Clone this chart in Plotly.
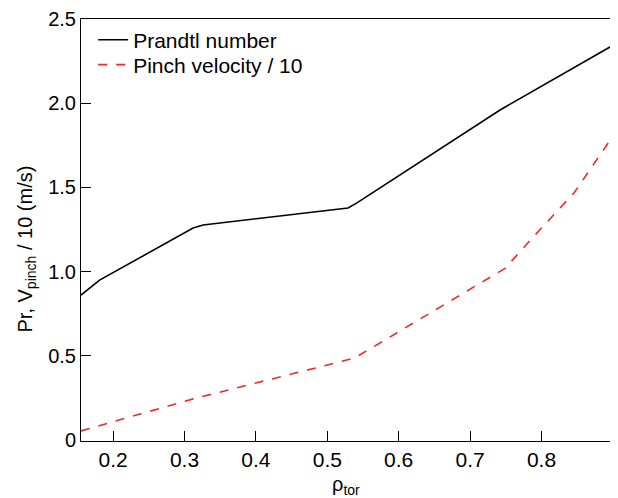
import plotly.graph_objects as go

# Prandtl number
rho_pr = [0.155, 0.181, 0.312, 0.326, 0.529, 0.541, 0.742, 0.896]
pr = [0.861, 0.950, 1.259, 1.277, 1.378, 1.407, 1.960, 2.334]

# Pinch velocity / 10
rho_v = [0.155, 0.312, 0.538, 0.749, 0.785, 0.846, 0.896]
vpinch = [0.055, 0.245, 0.487, 1.020, 1.190, 1.470, 1.780]

x_ticks = [0.2, 0.3, 0.4, 0.5, 0.6, 0.7, 0.8]
x_ticktext = ["0.2", "0.3", "0.4", "0.5", "0.6", "0.7", "0.8"]
y_ticks = [0, 0.5, 1.0, 1.5, 2.0, 2.5]
y_ticktext = ["0", "0.5", "1.0", "1.5", "2.0", "2.5"]

font = "Liberation Sans, Arial, Helvetica, sans-serif"

fig = go.Figure()
fig.add_trace(go.Scatter(x=rho_pr, y=pr, mode="lines", name="Prandtl number",
                         line=dict(color="black", width=1.6), legend="legend"))
fig.add_trace(go.Scatter(x=rho_v, y=vpinch, mode="lines", name="Pinch velocity / 10",
                         line=dict(color="#ee2a2a", width=1.6, dash="dash"), legend="legend2"))

leg_common = dict(xanchor="left", yanchor="middle", bgcolor="rgba(0,0,0,0)",
                  font=dict(size=21, family=font), borderwidth=0)

# page body has an 8px margin, so the figure is drawn at (8, 8)
fig.update_layout(
    width=610, height=490,
    margin=dict(l=73, r=8, t=11, b=57, autoexpand=False),
    paper_bgcolor="white", plot_bgcolor="white",
    font=dict(family=font, size=20, color="black"),
    showlegend=True,
    legend=dict(x=0.023, y=0.950, **leg_common),
    legend2=dict(x=0.023, y=0.891, **leg_common),
    xaxis=dict(range=[0.155, 0.896], tickvals=x_ticks, ticktext=x_ticktext,
               ticks="inside", ticklen=10, tickwidth=1, tickcolor="black",
               showline=True, linecolor="black", linewidth=1, mirror=True,
               showgrid=False, zeroline=False, automargin=False,
               tickfont=dict(size=21)),
    yaxis=dict(range=[-0.005, 2.5], tickvals=y_ticks, ticktext=y_ticktext,
               ticks="inside", ticklen=10, tickwidth=1, tickcolor="black",
               showline=True, linecolor="black", linewidth=1, mirror=True,
               showgrid=False, zeroline=False, automargin=False,
               tickfont=dict(size=20)),
)

# axis titles
fig.add_annotation(text="ρ<sub>tor</sub>", x=0.5, y=0, xref="paper", yref="paper",
                   xanchor="center", yanchor="top", yshift=-30, showarrow=False,
                   font=dict(size=20, family=font))
fig.add_annotation(text="Pr, V<sub>pinch</sub> / 10 (m/s)", x=0, y=0.455, xref="paper", yref="paper",
                   xanchor="right", yanchor="middle", xshift=-40, textangle=-90,
                   showarrow=False, font=dict(size=20, family=font))

fig.add_annotation(text="JG10.209-1c", x=1.0, y=0.0, xref="paper", yref="paper",
                   xanchor="left", yanchor="bottom", xshift=-1, textangle=-90,
                   showarrow=False, font=dict(size=10, color="#333333", family=font))

fig.write_html("out.html")
